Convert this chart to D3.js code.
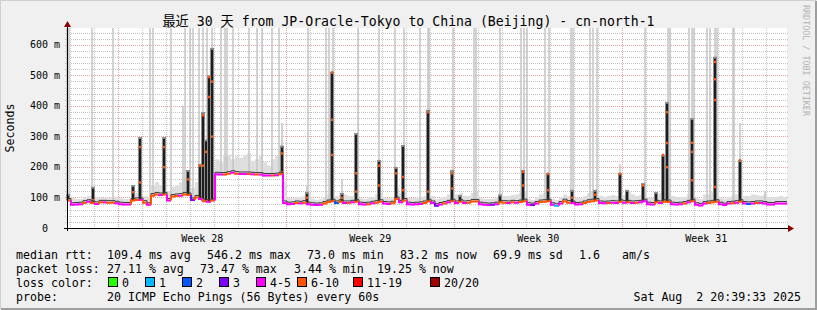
<!DOCTYPE html>
<html>
<head>
<meta charset="utf-8">
<script src="https://cdn.jsdelivr.net/npm/d3@7"></script>
<style>
  body { margin: 0; background: #f0f0f0; }
  text { font-family: "DejaVu Sans Mono", "Noto Sans CJK SC", monospace; }
</style>
</head>
<body>
<div id="chart"></div>
<script>
// ---- data ----
var TITLE = "最近 30 天 from JP-Oracle-Tokyo to China (Beijing) - cn-north-1";
var START = "2025-07-03T20:39:33Z";
var END = "2025-08-02T20:39:33Z";
var STEP_HOURS = 4;
var Y_MAX = 655;

// median rtt (ms), one value every 4 hours
var medianMs = [
  90, 76, 77, 78, 83, 86, 82, 79, 84, 84, 83, 83, 81, 78, 77, 77, 90, 92, 92, 83,
  76, 106, 110, 108, 110, 90, 103, 105, 106, 110, 108, 92, 100, 95, 88, 86, 90, 176, 175, 175,
  178, 181, 178, 177, 177, 177, 176, 175, 175, 172, 172, 172, 173, 176, 82, 78, 79, 82, 81, 83,
  78, 76, 75, 76, 80, 85, 88, 82, 86, 82, 82, 84, 86, 78, 77, 78, 81, 83, 86, 80,
  79, 81, 95, 84, 90, 78, 77, 78, 79, 82, 88, 82, 73, 77, 80, 84, 88, 82, 86, 82,
  83, 87, 87, 78, 76, 75, 76, 78, 84, 83, 82, 84, 83, 85, 88, 76, 75, 80, 85, 86,
  88, 76, 73, 80, 88, 83, 82, 77, 78, 82, 86, 88, 90, 82, 81, 82, 83, 82, 86, 83,
  84, 82, 83, 84, 88, 78, 77, 84, 82, 86, 85, 78, 77, 78, 80, 84, 88, 76, 74, 80,
  82, 84, 86, 78, 75, 80, 81, 83, 86, 80, 79, 80, 82, 82, 80, 77, 77, 80, 80, 80
];

// lost pings out of 20, same steps
var lossCount = [
  7, 5, 5, 5, 7, 5, 7, 5, 7, 5, 7, 7, 5, 5, 5, 5, 7, 7, 5, 7,
  5, 7, 7, 5, 7, 5, 7, 7, 5, 7, 7, 3, 7, 5, 7, 5, 7, 5, 5, 7,
  7, 5, 7, 5, 5, 7, 5, 7, 5, 5, 5, 7, 5, 7, 5, 5, 5, 7, 5, 7,
  5, 5, 5, 5, 7, 7, 7, 2, 7, 5, 7, 5, 7, 5, 5, 7, 5, 7, 7, 5,
  5, 7, 7, 5, 7, 5, 5, 5, 5, 7, 7, 5, 3, 5, 7, 5, 7, 5, 7, 5,
  7, 7, 7, 5, 5, 5, 3, 5, 7, 7, 5, 7, 5, 7, 7, 5, 3, 5, 7, 7,
  7, 5, 1, 5, 7, 7, 5, 5, 5, 7, 7, 7, 7, 5, 5, 7, 5, 5, 7, 5,
  7, 5, 7, 5, 5, 5, 5, 7, 5, 7, 7, 5, 5, 5, 7, 5, 7, 5, 5, 5,
  7, 7, 7, 5, 5, 5, 7, 5, 7, 5, 2, 5, 7, 5, 5, 5, 5, 5, 5, 5
];

// top of the light smoke around the median (ms)
var smokeTopMs = [
  110, 100, 95, 95, 100, 105, 120, 100, 100, 98, 100, 102, 100, 98, 95, 95, 130, 115, 120, 105,
  100, 140, 150, 140, 145, 120, 135, 140, 150, 165, 160, 130, 150, 160, 150, 140, 160, 225, 215, 235,
  240, 225, 235, 230, 240, 245, 220, 225, 235, 215, 205, 225, 235, 260, 150, 100, 98, 100, 102, 105,
  115, 95, 92, 95, 100, 110, 120, 105, 115, 110, 105, 105, 115, 98, 95, 100, 100, 110, 115, 100,
  98, 100, 130, 115, 130, 100, 98, 98, 100, 105, 120, 105, 95, 98, 102, 110, 125, 110, 115, 105,
  105, 115, 120, 98, 95, 95, 96, 100, 115, 105, 105, 108, 110, 115, 120, 95, 92, 100, 110, 115,
  125, 95, 92, 100, 110, 105, 110, 98, 98, 105, 115, 120, 125, 105, 102, 105, 108, 105, 115, 108,
  120, 110, 105, 108, 120, 100, 98, 110, 115, 130, 125, 105, 100, 100, 102, 110, 125, 98, 95, 110,
  110, 120, 130, 100, 96, 100, 105, 110, 125, 105, 105, 110, 108, 105, 110, 100, 100, 102, 105, 102
];

// thin smoke streaks: hours after start and their top (ms)
var greySpikeHours = [0, 2, 25, 46, 83, 86, 104, 116, 118, 123, 126, 132, 136, 140, 145, 154, 158, 160, 166, 182,
  190, 195, 205, 212, 215, 240, 241, 259, 262, 266, 275, 291, 312, 328, 337, 353, 361, 362, 386, 407,
  409, 433, 454, 457, 460, 478, 482, 504, 506, 523, 526, 530, 553, 578, 601, 603, 622, 625, 627, 640,
  643, 648, 650, 666, 667, 673, 698];
var greySpikeTopMs = [700, 700, 700, 700, 700, 700, 700, 400, 700, 700, 700, 700, 700, 700, 700, 700, 700, 700, 700, 700,
  700, 700, 700, 700, 344, 140, 700, 700, 700, 700, 160, 700, 700, 700, 700, 700, 700, 700, 700, 700,
  700, 700, 700, 700, 700, 700, 700, 700, 700, 700, 700, 700, 210, 700, 700, 700, 700, 700, 700, 700,
  700, 700, 700, 700, 700, 344, 120];

// dense (dark) smoke columns: hours after start, top (ms), median readings inside (ms)
var darkSpikeHours = [1, 26, 66, 73, 97, 121, 133, 136, 139, 142, 145, 215, 240, 265, 275, 289, 312, 329, 336, 361,
  385, 393, 433, 456, 481, 505, 528, 553, 560, 576, 589, 596, 600, 625, 648, 673];
var darkSpikeTopMs = [112, 135, 141, 298, 298, 190, 210, 380, 290, 500, 590, 270, 118, 512, 115, 311, 223, 200, 272, 387,
  190, 108, 110, 190, 180, 125, 125, 180, 125, 147, 118, 240, 413, 360, 561, 223];
var darkSpikeDotsMs = [[95], [92], [118], [266, 150], [266, 200], [160], [205], [370, 205], [250], [495, 430], [480, 300],
  [245, 183], [100], [510, 355, 240], [100], [180, 120], [205, 140], [180], [168, 125], [380, 120],
  [180, 130], [], [], [185, 140], [178, 125], [100], [110], [178], [], [140], [], [240], [380, 279, 200],
  [280, 250, 157], [545, 488, 420, 135], [223]];

var yTicks = [0, 100, 200, 300, 400, 500, 600];
var lossLabels = ["0", "1", "2", "3", "4-5", "6-10", "11-19", "20/20"];
var lossColors = ["#26ff00", "#00b8ff", "#0059ff", "#7e00ff", "#ff00fe", "#ff5500", "#ff0000", "#a10000"];
var lossUpper = [0, 1, 2, 3, 5, 10, 19, 20];

var rttStats = ["median rtt:", "109.4 ms avg", "546.2 ms max", "73.0 ms min", "83.2 ms now", "69.9 ms sd", "1.6", "am/s"];
var lossStats = ["packet loss:", "27.11 % avg", "73.47 % max", "3.44 % min", "19.25 % now"];
var probeInfo = ["probe:", "20 ICMP Echo Pings (56 Bytes) every 60s", "Sat Aug  2 20:39:33 2025"];

var SmokeChart = {
  W: 817,
  H: 310,
  LEFT: 67,
  RIGHT: 787,
  TOP: 28,
  BOTTOM: 228,

  svg: null,
  x: null,
  y: null,
  start: null,

  init: function(){
    this.start = new Date(START);
    this.x = d3.scaleUtc().domain([this.start, new Date(END)]).range([this.LEFT, this.RIGHT]);
    this.y = d3.scaleLinear().domain([0, Y_MAX]).range([this.BOTTOM, this.TOP]).clamp(true);
    this.buildSvg();
    this.drawGrid();
    this.drawSmoke();
    this.drawSpikes();
    this.drawMedian();
    this.drawAxes();
    this.drawTexts();
    this.drawLegend();
  },

  hourTime: function(h){
    return new Date(+this.start + h * 3600e3);
  },

  lossColor: function(n){
    for (var k = 0; k < lossUpper.length; k++) {
      if (n <= lossUpper[k]) return lossColors[k];
    }
    return lossColors[lossColors.length - 1];
  },

  medianAt: function(h){
    var i = Math.min(medianMs.length - 1, Math.floor(h / STEP_HOURS));
    return medianMs[i];
  },

  buildSvg: function(){
    this.svg = d3.select("#chart").append("svg")
      .attr("width", this.W)
      .attr("height", this.H);
    this.svg.append("rect").attr("width", this.W).attr("height", this.H).attr("fill", "#f0f0f0");
    // 3d frame
    this.svg.append("path").attr("d", "M0,309V0H816").attr("fill", "none").attr("stroke", "#cfcfcf").attr("stroke-width", 2);
    this.svg.append("path").attr("d", "M1,309H816V1").attr("fill", "none").attr("stroke", "#9e9e9e").attr("stroke-width", 2);
    this.svg.append("rect")
      .attr("x", this.LEFT).attr("y", this.TOP)
      .attr("width", this.RIGHT - this.LEFT).attr("height", this.BOTTOM - this.TOP)
      .attr("fill", "#fff");
  },

  drawGrid: function(){
    var that = this, g = this.svg.append("g").attr("shape-rendering", "crispEdges");
    var minorY = d3.range(20, Y_MAX, 20).filter(function(v){ return v % 100 != 0; });
    g.selectAll(".hmin").data(minorY).enter().append("line")
      .attr("x1", this.LEFT - 2).attr("x2", this.RIGHT + 2)
      .attr("y1", function(d){ return Math.round(that.y(d)) + 0.5; })
      .attr("y2", function(d){ return Math.round(that.y(d)) + 0.5; })
      .attr("stroke", "#c4c4c4").attr("stroke-dasharray", "1,1");
    var days = d3.utcDay.range(this.start, new Date(END));
    g.selectAll(".vmin").data(days).enter().append("line")
      .attr("x1", function(d){ return Math.round(that.x(d)) + 0.5; })
      .attr("x2", function(d){ return Math.round(that.x(d)) + 0.5; })
      .attr("y1", this.TOP).attr("y2", this.BOTTOM + 2)
      .attr("stroke", "#c4c4c4").attr("stroke-dasharray", "1,1");
    g.selectAll(".hmaj").data(yTicks.slice(1)).enter().append("line")
      .attr("x1", this.LEFT - 2).attr("x2", this.RIGHT + 2)
      .attr("y1", function(d){ return Math.round(that.y(d)) + 0.5; })
      .attr("y2", function(d){ return Math.round(that.y(d)) + 0.5; })
      .attr("stroke", "#e9a0a0").attr("stroke-dasharray", "1,1");
    var weeks = d3.utcSunday.range(this.start, new Date(END));
    g.selectAll(".vmaj").data(weeks).enter().append("line")
      .attr("x1", function(d){ return Math.round(that.x(d)) + 0.5; })
      .attr("x2", function(d){ return Math.round(that.x(d)) + 0.5; })
      .attr("y1", this.TOP).attr("y2", this.BOTTOM + 2)
      .attr("stroke", "#e9a0a0").attr("stroke-dasharray", "1,1");
  },

  drawSmoke: function(){
    var that = this;
    this.svg.append("g").selectAll("rect").data(medianMs).enter().append("rect")
      .attr("x", function(d, i){ return that.x(that.hourTime(i * STEP_HOURS)); })
      .attr("width", function(d, i){ return that.x(that.hourTime((i + 1) * STEP_HOURS)) - that.x(that.hourTime(i * STEP_HOURS)); })
      .attr("y", function(d, i){ return that.y(smokeTopMs[i]); })
      .attr("height", function(d, i){ return that.y(d - 4) - that.y(smokeTopMs[i]); })
      .attr("fill", "#dedede");
  },

  drawSpikes: function(){
    var that = this;
    this.svg.append("g").selectAll("line").data(greySpikeHours).enter().append("line")
      .attr("x1", function(h){ return that.x(that.hourTime(h)); })
      .attr("x2", function(h){ return that.x(that.hourTime(h)); })
      .attr("y1", function(h){ return that.y(that.medianAt(h)); })
      .attr("y2", function(h, i){ return that.y(greySpikeTopMs[i]); })
      .attr("stroke", "#c4c4c4").attr("stroke-width", 1.5);

    var dark = this.svg.append("g").selectAll("g").data(darkSpikeHours).enter().append("g");
    dark.append("rect")
      .attr("x", function(h){ return that.x(that.hourTime(h)) - 2; })
      .attr("width", 4)
      .attr("y", function(h, i){ return that.y(darkSpikeTopMs[i]); })
      .attr("height", function(h, i){ return that.y(that.medianAt(h)) - that.y(darkSpikeTopMs[i]); })
      .attr("fill", "#8c8c8c");
    dark.append("rect")
      .attr("x", function(h){ return that.x(that.hourTime(h)) - 1; })
      .attr("width", 2)
      .attr("y", function(h, i){ return that.y(darkSpikeTopMs[i]) + 2; })
      .attr("height", function(h, i){ return Math.max(0, that.y(that.medianAt(h)) - that.y(darkSpikeTopMs[i]) - 2); })
      .attr("fill", "#1e1e1e");
    dark.selectAll("rect.dot").data(function(h, i){
        return darkSpikeDotsMs[i].map(function(v){ return { h: h, v: v }; });
      }).enter().append("rect").attr("class", "dot")
      .attr("x", function(d){ return that.x(that.hourTime(d.h)) - 1; })
      .attr("y", function(d){ return that.y(d.v) - 1; })
      .attr("width", 2).attr("height", 2.5)
      .attr("fill", this.lossColor(7));
  },

  drawMedian: function(){
    var that = this;
    var stepPath = function(d, i, lift){
      var x0 = that.x(that.hourTime(i * STEP_HOURS));
      var x1 = that.x(that.hourTime((i + 1) * STEP_HOURS));
      var prev = i > 0 ? medianMs[i - 1] : d;
      return "M" + x0 + "," + (that.y(prev) - lift) + "V" + (that.y(d) - lift) + "H" + x1;
    };
    // dense smoke core just above the median
    this.svg.append("g").selectAll("path").data(medianMs).enter().append("path")
      .attr("d", function(d, i){ return stepPath(d, i, 2); })
      .attr("fill", "none").attr("stroke", "#3a3a3a").attr("stroke-width", 1);
    this.svg.append("g").selectAll("path").data(medianMs).enter().append("path")
      .attr("d", function(d, i){ return stepPath(d, i, 0); })
      .attr("fill", "none")
      .attr("stroke", function(d, i){ return that.lossColor(lossCount[i]); })
      .attr("stroke-width", 2);
  },

  drawAxes: function(){
    var that = this, g = this.svg.append("g");
    var y0 = this.BOTTOM + 0.5, x0 = this.LEFT + 0.5;
    g.append("line").attr("x1", this.LEFT - 3).attr("x2", this.RIGHT + 2).attr("y1", y0).attr("y2", y0)
      .attr("stroke", "#000");
    g.append("line").attr("x1", x0).attr("x2", x0).attr("y1", this.BOTTOM + 3).attr("y2", this.TOP - 2)
      .attr("stroke", "#000");
    g.append("path").attr("d", "M" + (this.RIGHT + 1) + "," + (y0 - 3.5) + "l6,3.5l-6,3.5z").attr("fill", "#8b0000");
    g.append("path").attr("d", "M" + (x0 - 3.5) + "," + (this.TOP - 1) + "l3.5,-6l3.5,6z").attr("fill", "#8b0000");

    var labels = g.selectAll(".yl").data(yTicks).enter();
    labels.append("text")
      .attr("x", 48).attr("y", function(d){ return that.y(d); }).attr("dy", "0.35em")
      .attr("text-anchor", "end").attr("font-size", "10px")
      .text(function(d){ return d; });
    labels.append("text")
      .attr("x", 54).attr("y", function(d){ return that.y(d); }).attr("dy", "0.35em")
      .attr("font-size", "10px")
      .text(function(d){ return d == 0 ? "" : "m"; });

    var mids = d3.utcSunday.range(d3.utcSunday.floor(this.start), new Date(END))
      .map(function(d){ return d3.utcHour.offset(d, 84); })
      .filter(function(d){ return d > that.start && d < new Date(END); });
    g.selectAll(".wk").data(mids).enter().append("text")
      .attr("x", function(d){ return that.x(d); }).attr("y", 241.5)
      .attr("text-anchor", "middle").attr("font-size", "10px")
      .text(d3.utcFormat("Week %V"));
  },

  drawTexts: function(){
    this.svg.append("text").attr("x", this.W / 2).attr("y", 26)
      .attr("text-anchor", "middle").attr("font-size", "13.2px").text(TITLE);
    this.svg.append("text").attr("transform", "translate(14,128) rotate(-90)")
      .attr("text-anchor", "middle").attr("font-size", "11.6px").text("Seconds");
    this.svg.append("text").attr("transform", "translate(803,5) rotate(90)")
      .attr("font-size", "8.4px").attr("fill", "#b4b4b4").text("RRDTOOL / TOBI OETIKER");
  },

  drawLegend: function(){
    var g = this.svg.append("g").attr("font-size", "11.6px");
    var rttX = [16, 107, 207, 307, 400, 493, 579, 622];
    g.selectAll(".r1").data(rttStats).enter().append("text")
      .attr("x", function(d, i){ return rttX[i]; }).attr("y", 259).text(String);
    var lossX = [16, 107, 200, 294, 377];
    g.selectAll(".r2").data(lossStats).enter().append("text")
      .attr("x", function(d, i){ return lossX[i]; }).attr("y", 273).text(String);
    g.append("text").attr("x", 16).attr("y", 287).text("loss color:");
    var boxX = [108, 145, 182, 219, 256, 297, 353, 430];
    var item = g.selectAll(".lc").data(lossLabels).enter().append("g");
    item.append("rect")
      .attr("x", function(d, i){ return boxX[i] + 0.5; }).attr("y", 277.5)
      .attr("width", 9).attr("height", 9)
      .attr("fill", function(d, i){ return lossColors[i]; })
      .attr("stroke", "#000");
    item.append("text")
      .attr("x", function(d, i){ return boxX[i] + 14; }).attr("y", 287).text(String);
    g.append("text").attr("x", 16).attr("y", 301).text(probeInfo[0]);
    g.append("text").attr("x", 107).attr("y", 301).text(probeInfo[1]);
    g.append("text").attr("x", 801).attr("y", 301).attr("text-anchor", "end")
      .style("white-space", "pre").text(probeInfo[2]);
  }
};

SmokeChart.init();
</script>
</body>
</html>
